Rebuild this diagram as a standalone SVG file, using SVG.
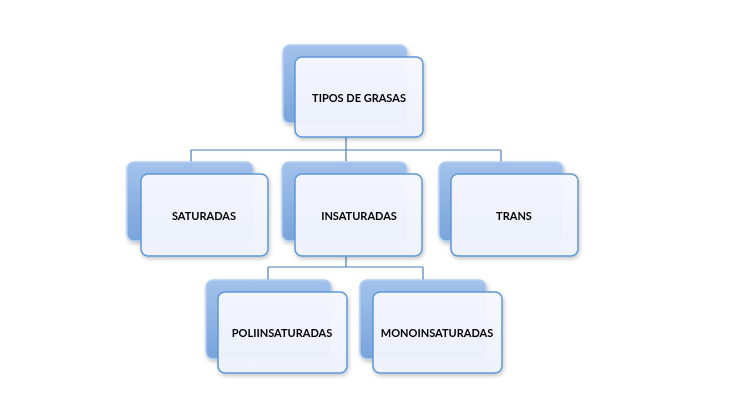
<svg xmlns="http://www.w3.org/2000/svg" width="730" height="403" viewBox="0 0 730 403">
<defs>
<linearGradient id="bk" x1="0" y1="0" x2="0" y2="1">
<stop offset="0" stop-color="#a3c2ec"/>
<stop offset="0.5" stop-color="#8db3e4"/>
<stop offset="1" stop-color="#78a3db"/>
</linearGradient>
<linearGradient id="fr" x1="0" y1="0" x2="0" y2="1">
<stop offset="0" stop-color="#f7f8fe"/>
<stop offset="1" stop-color="#eff2fc"/>
</linearGradient>
<filter id="sh" x="-10%" y="-10%" width="130%" height="130%">
<feGaussianBlur in="SourceAlpha" stdDeviation="2"/>
<feOffset dx="1" dy="2"/>
<feComponentTransfer><feFuncA type="linear" slope="0.25"/></feComponentTransfer>
<feMerge><feMergeNode/><feMergeNode in="SourceGraphic"/></feMerge>
</filter>
</defs>
<style>
.back{fill:url(#bk);stroke:#b5cff0;stroke-width:1.5}
.front{fill:url(#fr);fill-opacity:0.96;stroke:#5f98d6;stroke-width:1.5}
.lbl{font-family:Lato,"Liberation Sans",Arial,sans-serif;font-weight:bold;font-size:11px;fill:#000;text-anchor:middle;dominant-baseline:central}
.con{fill:none;stroke:#4a7ebb;stroke-width:1.2}
</style>
<rect width="730" height="403" fill="#ffffff"/>
<g id="connectors">
<path class="con" d="M346,137 V150 M191,150 H501 M191,150 V162 M346,150 V162 M501,150 V162"/>
<path class="con" d="M346,256 V267 M268,267 H423 M268,267 V280 M423,267 V280"/>
</g>
<g id="tipos" filter="url(#sh)">
<rect class="back" x="283" y="45" width="124" height="78" rx="7"/>
<rect class="front" x="295" y="57" width="128" height="80" rx="7"/>
<text class="lbl" x="359" y="97">TIPOS DE GRASAS</text>
</g>
<g id="saturadas" filter="url(#sh)">
<rect class="back" x="127" y="162" width="126" height="79" rx="7"/>
<rect class="front" x="141" y="174" width="127" height="82" rx="7"/>
<text class="lbl" x="204" y="215">SATURADAS</text>
</g>
<g id="insaturadas" filter="url(#sh)">
<rect class="back" x="282" y="162" width="125" height="79" rx="7"/>
<rect class="front" x="295" y="174" width="127" height="82" rx="7"/>
<text class="lbl" x="359" y="215">INSATURADAS</text>
</g>
<g id="trans" filter="url(#sh)">
<rect class="back" x="439" y="162" width="124" height="79" rx="7"/>
<rect class="front" x="451" y="174" width="127" height="82" rx="7"/>
<text class="lbl" x="514" y="215">TRANS</text>
</g>
<g id="poliinsaturadas" filter="url(#sh)">
<rect class="back" x="206" y="280" width="125" height="79" rx="7"/>
<rect class="front" x="218" y="292" width="129" height="81" rx="7"/>
<text class="lbl" x="282" y="332">POLIINSATURADAS</text>
</g>
<g id="monoinsaturadas" filter="url(#sh)">
<rect class="back" x="360" y="280" width="126" height="79" rx="7"/>
<rect class="front" x="373" y="292" width="129" height="81" rx="7"/>
<text class="lbl" x="437" y="332">MONOINSATURADAS</text>
</g>
</svg>
